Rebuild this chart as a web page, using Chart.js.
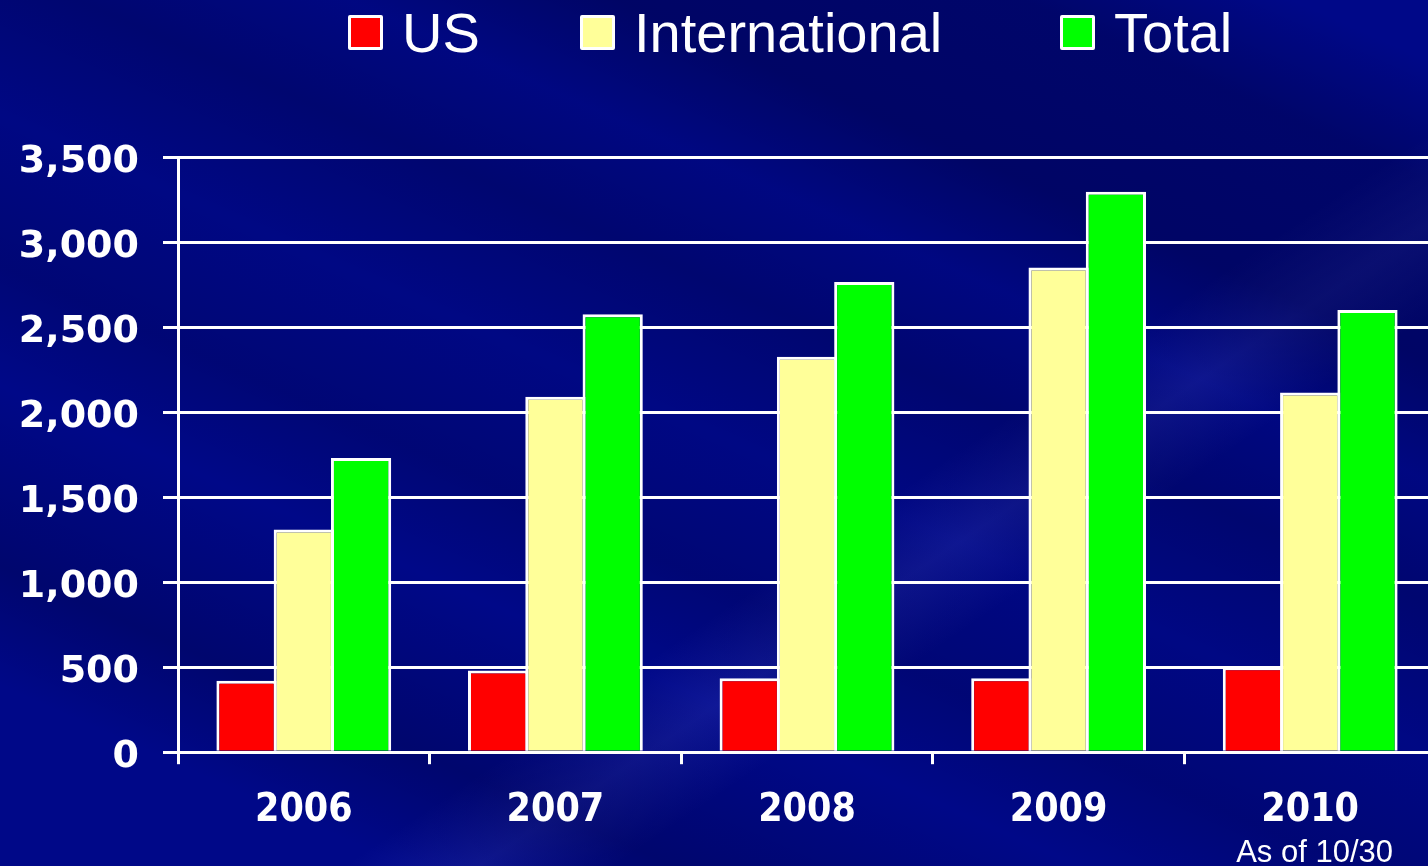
<!DOCTYPE html>
<html>
<head>
<meta charset="utf-8">
<script src="https://cdn.jsdelivr.net/npm/chart.js@4/dist/chart.umd.min.js"></script>
<style>
  html, body {
    margin: 0;
    padding: 0;
  }
  body {
    width: 1428px;
    height: 866px;
    overflow: hidden;
    position: relative;
    background-color: #000888;
    background-image:
      linear-gradient(204deg, rgba(0,0,50,0) 4%, rgba(0,0,50,0.35) 12%, rgba(0,0,50,0.4) 24%, rgba(0,0,50,0.08) 32%, rgba(0,0,50,0.28) 40%, rgba(0,0,50,0.05) 50%, rgba(0,0,50,0.22) 60%, rgba(0,0,50,0) 68%, rgba(0,0,50,0.3) 80%, rgba(0,0,50,0) 88%),
      linear-gradient(146deg, rgba(110,120,240,0) 60%, rgba(110,120,240,0.14) 65%, rgba(110,120,240,0) 70%);
    font-family: "Liberation Sans", Arial, sans-serif;
    color: #fff;
  }
  #wrap {
    position: absolute;
    left: 0;
    top: 0;
    width: 1428px;
    height: 866px;
    overflow: hidden;
  }
  #legend .item {
    position: absolute;
    top: 4px;
    display: flex;
    align-items: center;
    font-size: 56px;
    line-height: 57px;
    white-space: nowrap;
  }
  #legend .box {
    width: 29px;
    height: 29px;
    border: 3px solid #fff;
    border-radius: 2px;
    margin-right: 19px;
  }
  #note {
    position: absolute;
    right: 35px;
    top: 836px;
    font-size: 31px;
    line-height: 31px;
  }
</style>
</head>
<body>
<div id="wrap"><canvas id="chart" width="1436" height="866"></canvas></div>
<div id="legend"></div>
<div id="note">As of 10/30</div>
<script>
const years = ['2006', '2007', '2008', '2009', '2010']
const usValues = [420, 480, 435, 435, 500]
const internationalValues = [1310, 2090, 2325, 2850, 2115]
const totalValues = [1730, 2575, 2765, 3295, 2600]
const yTicks = [0, 500, 1000, 1500, 2000, 2500, 3000, 3500]

const seriesNames = ['US', 'International', 'Total']
const seriesColors = ['#ff0000', '#ffff99', '#00ff00']

const datasets = [usValues, internationalValues, totalValues].map((values, i) => ({
  label: seriesNames[i],
  data: values,
  backgroundColor: seriesColors[i],
  borderColor: '#ffffff',
  borderWidth: 3,
  categoryPercentage: 0.683,
  barPercentage: 1.052
}))

const chart = new Chart(document.getElementById('chart'), {
  type: 'bar',
  data: {
    labels: years,
    datasets: datasets
  },
  options: {
    responsive: false,
    animation: false,
    layout: {
      padding: { top: 157, right: 0, bottom: 9, left: 0 }
    },
    plugins: {
      legend: { display: false },
      tooltip: { enabled: false }
    },
    scales: {
      x: {
        grid: {
          display: true,
          drawOnChartArea: false,
          color: '#ffffff',
          lineWidth: 3,
          tickLength: 12
        },
        border: { display: true, color: '#ffffff', width: 3 },
        ticks: {
          color: '#ffffff',
          padding: 23,
          font: { family: "'DejaVu Sans Condensed', 'DejaVu Sans', sans-serif", size: 39, weight: 'bold' }
        }
      },
      y: {
        min: yTicks[0],
        max: yTicks[yTicks.length - 1],
        afterFit: (scale) => { scale.width = 178 },
        afterBuildTicks: (scale) => { scale.ticks = yTicks.map((v) => ({ value: v })) },
        grid: {
          color: '#ffffff',
          lineWidth: 3,
          tickLength: 15
        },
        border: { display: true, color: '#ffffff', width: 3 },
        ticks: {
          color: '#ffffff',
          padding: 24,
          labelOffset: 5,
          font: { family: "'DejaVu Sans', sans-serif", size: 38, weight: 'bold' },
          callback: (value) => value.toLocaleString('en-US')
        }
      }
    }
  }
})

// legend drawn as html, items placed where the slide has them
const legendLeft = [348, 580, 1060]
const legend = document.getElementById('legend')
chart.data.datasets.forEach((ds, i) => {
  const item = document.createElement('div')
  item.className = 'item'
  item.style.left = legendLeft[i] + 'px'
  const box = document.createElement('span')
  box.className = 'box'
  box.style.background = ds.backgroundColor
  const text = document.createElement('span')
  text.textContent = ds.label
  item.appendChild(box)
  item.appendChild(text)
  legend.appendChild(item)
})
</script>
</body>
</html>
